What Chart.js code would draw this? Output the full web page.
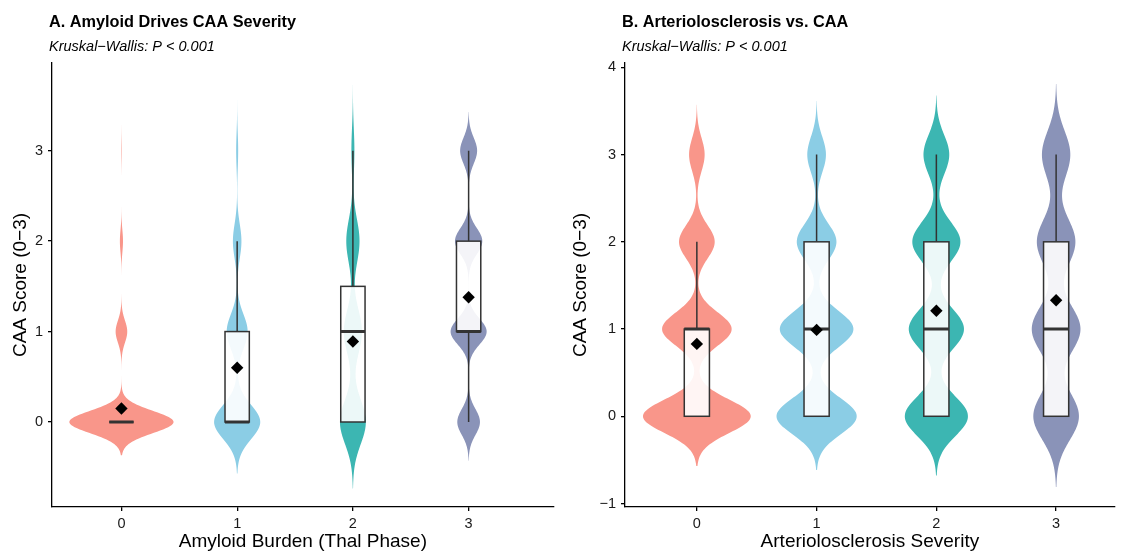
<!DOCTYPE html>
<html>
<head>
<meta charset="utf-8">
<script src="https://cdn.jsdelivr.net/npm/chart.js@4.4.1/dist/chart.umd.min.js"></script>
<style>
    body { margin: 0; background: #fff; }
    #wrap { position: relative; width: 1121px; height: 553px; }
    canvas { position: absolute; top: 0; }
</style>
</head>
<body>
<div id="wrap">
    <canvas id="chartA" width="560" height="553" style="left:0px"></canvas>
    <canvas id="chartB" width="561" height="553" style="left:560px"></canvas>
</div>
<script>
const FONT = "'Liberation Sans', Arial, Helvetica, sans-serif";
const groupColors = ['#F9968A', '#8BCDE5', '#3CB6B2', '#8A93B8'];
const caaLevels = [0, 1, 2, 3];

// Panel A - Amyloid burden (Thal phase) groups
const amyloidGroups = [0, 1, 2, 3];
// share of cases at CAA score 0,1,2,3 in each group
const amyloidShare = [
    [0.87, 0.097, 0.026, 0.004],
    [0.595, 0.27, 0.11, 0.026],
    [0.43, 0.30, 0.22, 0.05],
    [0.22, 0.35, 0.265, 0.165]
];
const amyloidBw = [0.123, 0.19, 0.245, 0.143];
const amyloidQ1 = [0, 0, 0, 1];
const amyloidMedian = [0, 0, 1, 1];
const amyloidQ3 = [0, 1, 1.5, 2];
const amyloidLow = [0, 0, 0, 0];
const amyloidHigh = [0, 2, 3, 3];
const amyloidMean = [0.15, 0.60, 0.89, 1.38];
const amyloidYTicks = [0, 1, 2, 3];

// Panel B - Arteriolosclerosis severity groups
const arterioGroups = [0, 1, 2, 3];
const arterioShare = [
    [0.471, 0.304, 0.156, 0.068],
    [0.378, 0.347, 0.187, 0.088],
    [0.328, 0.287, 0.25, 0.134],
    [0.283, 0.302, 0.239, 0.176]
];
const arterioBw = [0.19, 0.205, 0.226, 0.27];
const arterioQ1 = [0, 0, 0, 0];
const arterioMedian = [1, 1, 1, 1];
const arterioQ3 = [1, 2, 2, 2];
const arterioLow = [0, 0, 0, 0];
const arterioHigh = [2, 3, 3, 3];
const arterioMean = [0.83, 0.99, 1.21, 1.33];
const arterioYTicks = [-1, 0, 1, 2, 3, 4];

// draws violins (kernel density of the score shares) and box plots
const violinBox = {
    id: 'violinBox',
    beforeDatasetsDraw(chart, args, o) {
        const { ctx, chartArea, scales: { x, y } } = chart;
        const unit = x.getPixelForValue(1) - x.getPixelForValue(0);

        let dens = o.share.map((p, g) => {
            let bw = o.bw[g];
            let lo = caaLevels[0] - 3 * bw, hi = caaLevels[caaLevels.length - 1] + 3 * bw;
            let pts = [];
            for (let i = 0; i <= 300; i++) {
                let v = lo + (hi - lo) * i / 300;
                let f = 0;
                p.forEach((w, k) => {
                    let z = (v - caaLevels[k]) / bw;
                    f += w * Math.exp(-0.5 * z * z);
                });
                pts.push([v, f / (bw * Math.sqrt(2 * Math.PI))]);
            }
            return pts;
        });
        let fmax = Math.max(...dens.flat().map(d => d[1]));

        ctx.save();
        ctx.beginPath();
        ctx.rect(chartArea.left, chartArea.top, chartArea.width, chartArea.height);
        ctx.clip();

        // violins
        dens.forEach((pts, g) => {
            let cx = x.getPixelForValue(o.groups[g]);
            ctx.beginPath();
            pts.forEach((d, i) => {
                let px = cx + 0.45 * unit * d[1] / fmax;
                let py = y.getPixelForValue(d[0]);
                if (i === 0) ctx.moveTo(px, py); else ctx.lineTo(px, py);
            });
            for (let i = pts.length - 1; i >= 0; i--) {
                ctx.lineTo(cx - 0.45 * unit * pts[i][1] / fmax, y.getPixelForValue(pts[i][0]));
            }
            ctx.closePath();
            ctx.fillStyle = groupColors[g];
            ctx.fill();
        });

        // boxes
        let half = 0.105 * unit;
        o.groups.forEach((grp, g) => {
            let cx = x.getPixelForValue(grp);
            let yq1 = y.getPixelForValue(o.q1[g]);
            let yq3 = y.getPixelForValue(o.q3[g]);
            let ymed = y.getPixelForValue(o.median[g]);
            ctx.strokeStyle = '#333333';
            ctx.lineWidth = 1.5;
            ctx.beginPath();
            ctx.moveTo(cx, yq3); ctx.lineTo(cx, y.getPixelForValue(o.high[g]));
            ctx.moveTo(cx, yq1); ctx.lineTo(cx, y.getPixelForValue(o.low[g]));
            ctx.stroke();
            ctx.fillStyle = 'rgba(255,255,255,0.9)';
            ctx.fillRect(cx - half, yq3, 2 * half, yq1 - yq3);
            ctx.strokeRect(cx - half, yq3, 2 * half, yq1 - yq3);
            ctx.lineWidth = 3;
            ctx.beginPath();
            ctx.moveTo(cx - half, ymed); ctx.lineTo(cx + half, ymed);
            ctx.stroke();
        });
        ctx.restore();
    }
};

// panel title and subtitle, aligned with the y axis line
const panelTitle = {
    id: 'panelTitle',
    afterDraw(chart, args, o) {
        const { ctx, chartArea } = chart;
        ctx.save();
        ctx.fillStyle = '#000';
        ctx.textAlign = 'left';
        ctx.textBaseline = 'alphabetic';
        ctx.font = 'bold 16.3px ' + FONT;
        ctx.fillText(o.title, chartArea.left - 3, 27);
        ctx.font = 'italic 14.5px ' + FONT;
        ctx.fillText(o.subtitle, chartArea.left - 3, 51);
        ctx.restore();
    }
};

function makePanel(id, cfg) {
    let ctx = document.getElementById(id).getContext('2d');
    return new Chart(ctx, {
        type: 'scatter',
        data: {
            datasets: [{
                label: 'Mean',
                data: cfg.mean.map((m, i) => ({ x: cfg.groups[i], y: m })),
                pointStyle: 'rectRot',
                pointRadius: 6.2,
                backgroundColor: '#000',
                borderWidth: 0
            }]
        },
        options: {
            responsive: false,
            animation: false,
            devicePixelRatio: 1,
            layout: { padding: { top: 63, right: cfg.padRight, left: 0, bottom: 0 } },
            scales: {
                x: {
                    type: 'linear',
                    min: -0.6,
                    max: cfg.xMax,
                    afterBuildTicks: s => { s.ticks = cfg.groups.map(v => ({ value: v })); },
                    afterFit: s => { s.height = 46; },
                    ticks: { font: { family: FONT, size: 14.5 }, color: '#1a1a1a', padding: 4, callback: v => String(v) },
                    grid: { drawOnChartArea: false, drawTicks: true, tickLength: 4, color: '#000', lineWidth: 1.3 },
                    border: { display: true, color: '#000', width: 1.3 },
                    title: { display: true, text: cfg.xTitle, font: { family: FONT, size: 19 }, color: '#000', padding: 0 }
                },
                y: {
                    type: 'linear',
                    min: cfg.yMin,
                    max: cfg.yMax,
                    afterBuildTicks: s => { s.ticks = cfg.yTicks.map(v => ({ value: v })); },
                    afterFit: s => { s.width = cfg.yWidth; },
                    ticks: { font: { family: FONT, size: 14.5 }, color: '#1a1a1a', padding: 5,
                        callback: v => v < 0 ? '\u2212' + Math.abs(v) : String(v) },
                    grid: { drawOnChartArea: false, drawTicks: true, tickLength: 4, color: '#000', lineWidth: 1.3 },
                    border: { display: true, color: '#000', width: 1.3 },
                    title: { display: true, text: 'CAA Score (0\u22123)', font: { family: FONT, size: 19 }, color: '#000', padding: { top: 9, bottom: 0 } }
                }
            },
            plugins: {
                legend: { display: false },
                tooltip: { enabled: false },
                violinBox: {
                    groups: cfg.groups, share: cfg.share, bw: cfg.bw,
                    q1: cfg.q1, median: cfg.median, q3: cfg.q3, low: cfg.low, high: cfg.high
                },
                panelTitle: { title: cfg.title, subtitle: 'Kruskal\u2212Wallis: P < 0.001' }
            }
        },
        plugins: [violinBox, panelTitle]
    });
}

makePanel('chartA', {
    title: 'A. Amyloid Drives CAA Severity',
    xTitle: 'Amyloid Burden (Thal Phase)',
    groups: amyloidGroups, share: amyloidShare, bw: amyloidBw,
    q1: amyloidQ1, median: amyloidMedian, q3: amyloidQ3, low: amyloidLow, high: amyloidHigh,
    mean: amyloidMean, yTicks: amyloidYTicks, yMin: -0.94, yMax: 3.97, yWidth: 52,
    xMax: 3.736, padRight: 5
});

makePanel('chartB', {
    title: 'B. Arteriolosclerosis vs. CAA',
    xTitle: 'Arteriolosclerosis Severity',
    groups: arterioGroups, share: arterioShare, bw: arterioBw,
    q1: arterioQ1, median: arterioMedian, q3: arterioQ3, low: arterioLow, high: arterioHigh,
    mean: arterioMean, yTicks: arterioYTicks, yMin: -1.04, yMax: 4.05, yWidth: 65,
    xMax: 3.49, padRight: 1
});
</script>
</body>
</html>
